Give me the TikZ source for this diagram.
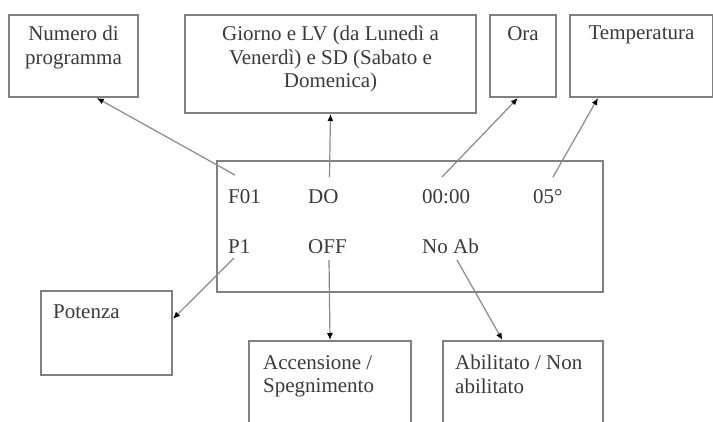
\documentclass[tikz,border=0pt]{standalone}
\usepackage{fontspec}
\setmainfont{Liberation Serif}
\usetikzlibrary{positioning,arrows.meta}
\definecolor{boxgray}{HTML}{808080}
\definecolor{linegray}{HTML}{8A8A8A}
\definecolor{txtgray}{HTML}{3A3A3A}
\tikzset{
  box/.style={draw=boxgray, line width=2pt, rectangle, inner sep=0pt, anchor=north west},
  lbl/.style={align=center, inner sep=0pt, text=txtgray, font=\fontsize{21}{23.5}\selectfont},
  val/.style={lbl, anchor=base west},
  conn/.style={draw=linegray, line width=1.2pt, -{Latex[length=7pt,width=6pt,color=black]}},
}

\begin{document}
\begin{tikzpicture}[x=1pt,y=-1pt]
\clip (0,0) rectangle (713,421);
\useasboundingbox (0,0) rectangle (713,421);

% top boxes
\node [box, minimum width=129pt, minimum height=82pt] (num) at (8,14) {};
\node [lbl, below=12pt of num.north] {Numero di\\programma};
\node [box, minimum width=291pt, minimum height=98pt] (giorno) at (184,14) {};
\node [lbl, below=12pt of giorno.north] {Giorno e LV (da Lunedì a\\Venerdì) e SD (Sabato e\\Domenica)};
\node [box, minimum width=66pt, minimum height=82pt] (ora) at (489,14) {};
\node [lbl, below=12pt of ora.north] {Ora};
\node [box, minimum width=143pt, minimum height=82pt] (temp) at (569,14) {};
\node [lbl, below=12pt of temp.north] {Temperatura};

% display
\node [box, minimum width=386pt, minimum height=131pt] (disp) at (216,160) {};
\node [val] (prog) at (228,203) {F01};
\node [val] (day) at (308,203) {DO};
\node [val] (hour) at (422,203) {00:00};
\node [val] (deg) at (533,203) {05°};
\node [val] (pow) at (228,253) {P1};
\node [val] (onoff) at (308,253) {OFF};
\node [val] (enab) at (422,253) {No Ab};

% bottom boxes
\node [box, minimum width=131pt, minimum height=84pt] (pot) at (40,290) {};
\node [lbl, align=left, below right=15pt and 13pt of pot.north west] {Potenza};
\node [box, minimum width=162pt, minimum height=100pt] (acc) at (248,340) {};
\node [lbl, align=left, below right=15pt and 15pt of acc.north west] {Accensione /\\Spegnimento};
\node [box, minimum width=160pt, minimum height=100pt] (abi) at (442,340) {};
\node [lbl, align=left, below right=15pt and 13pt of abi.north west] {Abilitato / Non\\abilitato};

% connectors
\coordinate (progup) at (235,175);
\coordinate (dayup) at (329.5,177);
\coordinate (hourup) at (442,177);
\coordinate (degup) at (553,177);
\coordinate (powdn) at (234,258);
\coordinate (onoffdn) at (329,260);
\coordinate (enabdn) at (457,260);
\draw [conn] (progup) -- (num.-61);
\draw [conn] (dayup) -- (giorno.south);
\draw [conn] (hourup) -- (ora.-97);
\draw [conn] (degup) -- (temp.-136);
\draw [conn] (powdn) -- (pot.12);
\draw [conn] (onoffdn) -- (acc.north);
\draw [conn] (enabdn) -- (abi.112);

\end{tikzpicture}
\end{document}
